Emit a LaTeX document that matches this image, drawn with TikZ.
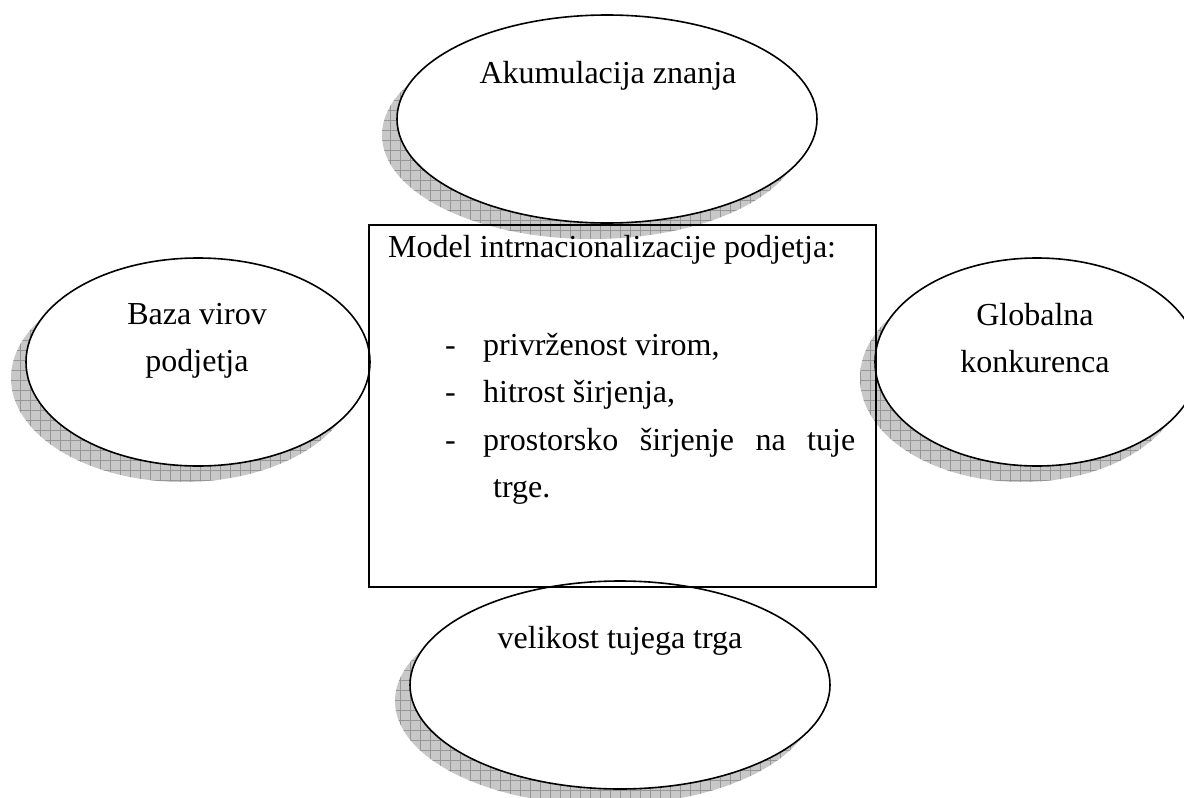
\documentclass[tikz,border=0pt]{standalone}
\usepackage{fontspec}
\setmainfont{Liberation Serif}
\usetikzlibrary{shapes.geometric}
\tikzset{
  ellbox/.style={ellipse, draw=black, line width=1.6pt, fill=white, inner sep=0pt},
  shadowfill/.style={fill={rgb,255:red,200;green,200;blue,200}},
  gridline/.style={draw={rgb,255:red,150;green,150;blue,150}, line width=0.6pt},
  lbl/.style={anchor=base, inner sep=0pt, font=\fontsize{32}{40}\selectfont},
  lblw/.style={anchor=base west, inner sep=0pt, font=\fontsize{32}{40}\selectfont},
  mainbox/.style={draw=black, line width=1.6pt, inner sep=0pt}
}
\newcommand{\myshadow}[4]{%
  \begin{scope}
    \clip (#1-15,#2+16) ellipse [x radius=#3, y radius=#4];
    \fill[shadowfill] (#1-15-#3,#2+16-#4) rectangle (#1-15+#3,#2+16+#4);
    \draw[gridline, step=10pt] (#1-15-#3-10,#2+16-#4-10) grid (#1-15+#3+10,#2+16+#4+10);
  \end{scope}}
\begin{document}
\begin{tikzpicture}[x=1pt,y=-1pt]
\useasboundingbox (0,0) rectangle (1184,798);
% shadows
\myshadow{607}{119}{210}{104}
\myshadow{198}{362}{172}{104}
\myshadow{1037}{362}{162}{104}
\myshadow{620}{685}{210}{104}
% ellipses
\node[ellbox, minimum width=420pt, minimum height=208pt] (top) at (607,119) {};
\node[ellbox, minimum width=344pt, minimum height=208pt] (left) at (198,362) {};
\node[ellbox, minimum width=324pt, minimum height=208pt] (right) at (1037,362) {};
\node[ellbox, minimum width=420pt, minimum height=208pt] (bottom) at (620,685) {};
% central box
\node[mainbox, minimum width=507pt, minimum height=362pt] (box) at (622.5,406) {};
% ellipse labels
\node[lbl] (ttop) at (608,83) {Akumulacija znanja};
\node[lbl] (tleft1) at (197,324) {Baza virov};
\node[lbl] (tleft2) at (197,371) {podjetja};
\node[lbl] (tright1) at (1035,325) {Globalna};
\node[lbl] (tright2) at (1035,372) {konkurenca};
\node[lbl] (tbottom) at (620,648) {velikost tujega trga};
% box text
\node[lblw] (title) at (388,257) {Model intrnacionalizacije podjetja:};
\node[lblw] (d1) at (445,355) {-};
\node[lblw] (d2) at (445,402) {-};
\node[lblw] (d3) at (445,450) {-};
\node[lblw] (i1) at (483,355) {privrženost virom,};
\node[lblw] (i2) at (483,402) {hitrost širjenja,};
\node[lblw] (i3) at (483,450) {\makebox[372pt][s]{prostorsko širjenje na tuje}};
\node[lblw] (i4) at (493,497) {trge.};
\end{tikzpicture}
\end{document}
